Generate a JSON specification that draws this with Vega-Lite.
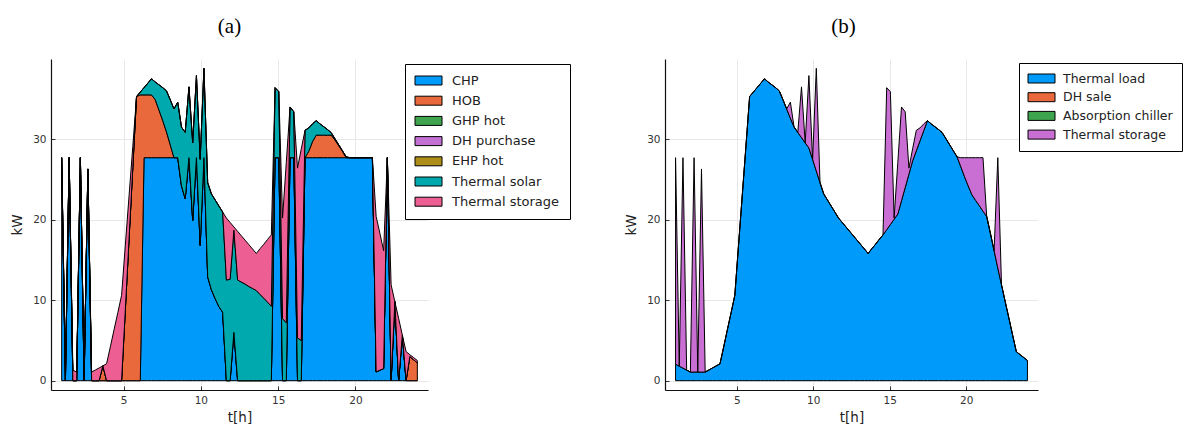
{
"$schema": "https://vega.github.io/schema/vega-lite/v6.json",
"background": "white",
"padding": {"left": 10, "top": 16, "right": 0, "bottom": 0},
"datasets": {
"a": [
{"t":1,"CHP":27.7,"HOB":0,"Thermal solar":0,"Thermal storage":0},
{"t":1.2421,"CHP":0,"HOB":0,"Thermal solar":0,"Thermal storage":1.8},
{"t":1.4842,"CHP":27.7,"HOB":0,"Thermal solar":0,"Thermal storage":0},
{"t":1.7263,"CHP":0,"HOB":0,"Thermal solar":0,"Thermal storage":1.31},
{"t":1.9684,"CHP":0,"HOB":0,"Thermal solar":0,"Thermal storage":1.07},
{"t":2.2105,"CHP":27.7,"HOB":0,"Thermal solar":0,"Thermal storage":0},
{"t":2.4526,"CHP":0,"HOB":0,"Thermal solar":0,"Thermal storage":1.07},
{"t":2.6947,"CHP":26.3,"HOB":0,"Thermal solar":0,"Thermal storage":0},
{"t":2.9368,"CHP":0,"HOB":0,"Thermal solar":0,"Thermal storage":1.07},
{"t":3.1789,"CHP":0,"HOB":0,"Thermal solar":0,"Thermal storage":1.33},
{"t":3.4211,"CHP":0,"HOB":0,"Thermal solar":0,"Thermal storage":1.58},
{"t":3.6632,"CHP":0,"HOB":1.84,"Thermal solar":0,"Thermal storage":0},
{"t":3.9053,"CHP":0,"HOB":0,"Thermal solar":0,"Thermal storage":2.1},
{"t":4.1474,"CHP":0,"HOB":0,"Thermal solar":0,"Thermal storage":4.2},
{"t":4.3895,"CHP":0,"HOB":0,"Thermal solar":0,"Thermal storage":6.35},
{"t":4.6316,"CHP":0,"HOB":0,"Thermal solar":0,"Thermal storage":8.45},
{"t":4.8737,"CHP":0,"HOB":0,"Thermal solar":0,"Thermal storage":10.6},
{"t":5.1158,"CHP":0,"HOB":8.8,"Thermal solar":0,"Thermal storage":8.0},
{"t":5.3579,"CHP":0,"HOB":17.65,"Thermal solar":0,"Thermal storage":5.3},
{"t":5.6,"CHP":0,"HOB":26.5,"Thermal solar":0,"Thermal storage":2.6},
{"t":5.8421,"CHP":0,"HOB":35.3,"Thermal solar":0,"Thermal storage":0},
{"t":6.0842,"CHP":0,"HOB":35.5,"Thermal solar":0.35,"Thermal storage":0},
{"t":6.3263,"CHP":27.7,"HOB":7.8,"Thermal solar":0.9,"Thermal storage":0},
{"t":6.5684,"CHP":27.7,"HOB":7.8,"Thermal solar":1.45,"Thermal storage":0},
{"t":6.8105,"CHP":27.7,"HOB":7.8,"Thermal solar":2.0,"Thermal storage":0},
{"t":7.0526,"CHP":27.7,"HOB":7.2,"Thermal solar":2.2,"Thermal storage":0},
{"t":7.2947,"CHP":27.7,"HOB":5.9,"Thermal solar":3.15,"Thermal storage":0},
{"t":7.5368,"CHP":27.7,"HOB":4.6,"Thermal solar":4.1,"Thermal storage":0},
{"t":7.7789,"CHP":27.7,"HOB":3.2,"Thermal solar":5.1,"Thermal storage":0},
{"t":8.0211,"CHP":27.7,"HOB":1.6,"Thermal solar":5.6,"Thermal storage":0},
{"t":8.2632,"CHP":27.7,"HOB":0,"Thermal solar":6.05,"Thermal storage":0},
{"t":8.5053,"CHP":27.7,"HOB":0,"Thermal solar":6.9,"Thermal storage":0},
{"t":8.7474,"CHP":24.2,"HOB":0,"Thermal solar":7.3,"Thermal storage":0},
{"t":8.9895,"CHP":22.6,"HOB":0,"Thermal solar":8.25,"Thermal storage":0},
{"t":9.2316,"CHP":27.7,"HOB":0,"Thermal solar":8.8,"Thermal storage":0},
{"t":9.4737,"CHP":19.9,"HOB":0,"Thermal solar":9.65,"Thermal storage":0},
{"t":9.7158,"CHP":27.7,"HOB":0,"Thermal solar":10.2,"Thermal storage":0},
{"t":9.9579,"CHP":16.8,"HOB":0,"Thermal solar":10.7,"Thermal storage":0},
{"t":10.2,"CHP":27.7,"HOB":0,"Thermal solar":11.1,"Thermal storage":0},
{"t":10.4421,"CHP":12.9,"HOB":0,"Thermal solar":11.7,"Thermal storage":0},
{"t":10.6842,"CHP":11.3,"HOB":0,"Thermal solar":11.9,"Thermal storage":0},
{"t":10.9263,"CHP":10.2,"HOB":0,"Thermal solar":12.25,"Thermal storage":0},
{"t":11.1684,"CHP":9.2,"HOB":0,"Thermal solar":12.5,"Thermal storage":0},
{"t":11.4105,"CHP":8.5,"HOB":0,"Thermal solar":12.45,"Thermal storage":0},
{"t":11.6526,"CHP":0,"HOB":0,"Thermal solar":12.5,"Thermal storage":7.7},
{"t":11.8947,"CHP":0,"HOB":0,"Thermal solar":12.6,"Thermal storage":7.05},
{"t":12.1368,"CHP":6.0,"HOB":0,"Thermal solar":12.7,"Thermal storage":0.4},
{"t":12.3789,"CHP":0,"HOB":0,"Thermal solar":12.5,"Thermal storage":6.05},
{"t":12.6211,"CHP":0,"HOB":0,"Thermal solar":12.25,"Thermal storage":5.75},
{"t":12.8632,"CHP":0,"HOB":0,"Thermal solar":12.0,"Thermal storage":5.45},
{"t":13.1053,"CHP":0,"HOB":0,"Thermal solar":11.7,"Thermal storage":5.2},
{"t":13.3474,"CHP":0,"HOB":0,"Thermal solar":11.45,"Thermal storage":4.9},
{"t":13.5895,"CHP":0,"HOB":0,"Thermal solar":11.2,"Thermal storage":4.6},
{"t":13.8316,"CHP":0,"HOB":0,"Thermal solar":10.7,"Thermal storage":5.7},
{"t":14.0737,"CHP":0,"HOB":0,"Thermal solar":10.25,"Thermal storage":6.7},
{"t":14.3158,"CHP":0,"HOB":0,"Thermal solar":9.75,"Thermal storage":7.8},
{"t":14.5579,"CHP":0,"HOB":0,"Thermal solar":9.25,"Thermal storage":8.85},
{"t":14.8,"CHP":27.7,"HOB":0,"Thermal solar":8.7,"Thermal storage":0},
{"t":15.0421,"CHP":27.7,"HOB":0,"Thermal solar":8.2,"Thermal storage":0},
{"t":15.2842,"CHP":0,"HOB":0,"Thermal solar":7.7,"Thermal storage":12.5},
{"t":15.5263,"CHP":0,"HOB":0,"Thermal solar":7.2,"Thermal storage":19.9},
{"t":15.7684,"CHP":27.7,"HOB":0,"Thermal solar":6.3,"Thermal storage":0},
{"t":16.0105,"CHP":27.7,"HOB":0,"Thermal solar":5.7,"Thermal storage":0},
{"t":16.2526,"CHP":0,"HOB":0,"Thermal solar":5.3,"Thermal storage":21.1},
{"t":16.4947,"CHP":0,"HOB":0,"Thermal solar":5.0,"Thermal storage":23.8},
{"t":16.7368,"CHP":27.7,"HOB":0,"Thermal solar":3.4,"Thermal storage":0},
{"t":16.9789,"CHP":27.7,"HOB":0.8,"Thermal solar":2.9,"Thermal storage":0},
{"t":17.2211,"CHP":27.7,"HOB":2.0,"Thermal solar":2.2,"Thermal storage":0},
{"t":17.4632,"CHP":27.7,"HOB":2.8,"Thermal solar":1.8,"Thermal storage":0},
{"t":17.7053,"CHP":27.7,"HOB":2.8,"Thermal solar":1.4,"Thermal storage":0},
{"t":17.9474,"CHP":27.7,"HOB":2.8,"Thermal solar":1.05,"Thermal storage":0},
{"t":18.1895,"CHP":27.7,"HOB":2.8,"Thermal solar":0.7,"Thermal storage":0},
{"t":18.4316,"CHP":27.7,"HOB":2.8,"Thermal solar":0.3,"Thermal storage":0},
{"t":18.6737,"CHP":27.7,"HOB":2.2,"Thermal solar":0.15,"Thermal storage":0},
{"t":18.9158,"CHP":27.7,"HOB":1.5,"Thermal solar":0.1,"Thermal storage":0},
{"t":19.1579,"CHP":27.7,"HOB":0.8,"Thermal solar":0.05,"Thermal storage":0},
{"t":19.4,"CHP":27.7,"HOB":0,"Thermal solar":0.1,"Thermal storage":0},
{"t":19.6421,"CHP":27.7,"HOB":0,"Thermal solar":0,"Thermal storage":0},
{"t":19.8842,"CHP":27.7,"HOB":0,"Thermal solar":0,"Thermal storage":0},
{"t":20.1263,"CHP":27.7,"HOB":0,"Thermal solar":0,"Thermal storage":0},
{"t":20.3684,"CHP":27.7,"HOB":0,"Thermal solar":0,"Thermal storage":0},
{"t":20.6105,"CHP":27.7,"HOB":0,"Thermal solar":0,"Thermal storage":0},
{"t":20.8526,"CHP":27.7,"HOB":0,"Thermal solar":0,"Thermal storage":0},
{"t":21.0947,"CHP":27.7,"HOB":0,"Thermal solar":0,"Thermal storage":0},
{"t":21.3368,"CHP":1.1,"HOB":0,"Thermal solar":0,"Thermal storage":19.3},
{"t":21.5789,"CHP":1.3,"HOB":0,"Thermal solar":0,"Thermal storage":17.0},
{"t":21.8211,"CHP":1.5,"HOB":0,"Thermal solar":0,"Thermal storage":14.65},
{"t":22.0632,"CHP":27.7,"HOB":0,"Thermal solar":0,"Thermal storage":0},
{"t":22.3053,"CHP":0,"HOB":0,"Thermal solar":0,"Thermal storage":11.9},
{"t":22.5474,"CHP":9.8,"HOB":0,"Thermal solar":0,"Thermal storage":0},
{"t":22.7895,"CHP":0,"HOB":0,"Thermal solar":0,"Thermal storage":7.75},
{"t":23.0316,"CHP":5.65,"HOB":0,"Thermal solar":0,"Thermal storage":0},
{"t":23.2737,"CHP":0,"HOB":0,"Thermal solar":0,"Thermal storage":3.6},
{"t":23.5158,"CHP":0,"HOB":3.0,"Thermal solar":0,"Thermal storage":0.23},
{"t":23.7579,"CHP":0,"HOB":2.6,"Thermal solar":0,"Thermal storage":0.27},
{"t":24,"CHP":0,"HOB":2.2,"Thermal solar":0,"Thermal storage":0.3}
],
"b": [
{"t":1,"Thermal load":2.05,"Thermal storage":25.65},
{"t":1.2421,"Thermal load":1.8,"Thermal storage":0},
{"t":1.4842,"Thermal load":1.56,"Thermal storage":26.14},
{"t":1.7263,"Thermal load":1.31,"Thermal storage":0},
{"t":1.9684,"Thermal load":1.07,"Thermal storage":0},
{"t":2.2105,"Thermal load":1.07,"Thermal storage":26.63},
{"t":2.4526,"Thermal load":1.07,"Thermal storage":0},
{"t":2.6947,"Thermal load":1.07,"Thermal storage":25.23},
{"t":2.9368,"Thermal load":1.07,"Thermal storage":0},
{"t":3.1789,"Thermal load":1.33,"Thermal storage":0},
{"t":3.4211,"Thermal load":1.58,"Thermal storage":0},
{"t":3.6632,"Thermal load":1.84,"Thermal storage":0},
{"t":3.9053,"Thermal load":2.1,"Thermal storage":0},
{"t":4.1474,"Thermal load":4.2,"Thermal storage":0},
{"t":4.3895,"Thermal load":6.35,"Thermal storage":0},
{"t":4.6316,"Thermal load":8.45,"Thermal storage":0},
{"t":4.8737,"Thermal load":10.6,"Thermal storage":0},
{"t":5.1158,"Thermal load":16.8,"Thermal storage":0},
{"t":5.3579,"Thermal load":22.95,"Thermal storage":0},
{"t":5.6,"Thermal load":29.1,"Thermal storage":0},
{"t":5.8421,"Thermal load":35.3,"Thermal storage":0},
{"t":6.0842,"Thermal load":35.85,"Thermal storage":0},
{"t":6.3263,"Thermal load":36.4,"Thermal storage":0},
{"t":6.5684,"Thermal load":36.95,"Thermal storage":0},
{"t":6.8105,"Thermal load":37.5,"Thermal storage":0},
{"t":7.0526,"Thermal load":37.1,"Thermal storage":0},
{"t":7.2947,"Thermal load":36.75,"Thermal storage":0},
{"t":7.5368,"Thermal load":36.4,"Thermal storage":0},
{"t":7.7789,"Thermal load":36.0,"Thermal storage":0},
{"t":8.0211,"Thermal load":34.9,"Thermal storage":0},
{"t":8.2632,"Thermal load":33.75,"Thermal storage":0},
{"t":8.5053,"Thermal load":32.6,"Thermal storage":2.0},
{"t":8.7474,"Thermal load":31.5,"Thermal storage":0},
{"t":8.9895,"Thermal load":30.85,"Thermal storage":0},
{"t":9.2316,"Thermal load":30.2,"Thermal storage":6.3},
{"t":9.4737,"Thermal load":29.55,"Thermal storage":0},
{"t":9.7158,"Thermal load":28.9,"Thermal storage":9.0},
{"t":9.9579,"Thermal load":27.5,"Thermal storage":0},
{"t":10.2,"Thermal load":26.05,"Thermal storage":12.75},
{"t":10.4421,"Thermal load":24.6,"Thermal storage":0},
{"t":10.6842,"Thermal load":23.2,"Thermal storage":0},
{"t":10.9263,"Thermal load":22.45,"Thermal storage":0},
{"t":11.1684,"Thermal load":21.7,"Thermal storage":0},
{"t":11.4105,"Thermal load":20.95,"Thermal storage":0},
{"t":11.6526,"Thermal load":20.2,"Thermal storage":0},
{"t":11.8947,"Thermal load":19.65,"Thermal storage":0},
{"t":12.1368,"Thermal load":19.1,"Thermal storage":0},
{"t":12.3789,"Thermal load":18.55,"Thermal storage":0},
{"t":12.6211,"Thermal load":18.0,"Thermal storage":0},
{"t":12.8632,"Thermal load":17.45,"Thermal storage":0},
{"t":13.1053,"Thermal load":16.9,"Thermal storage":0},
{"t":13.3474,"Thermal load":16.35,"Thermal storage":0},
{"t":13.5895,"Thermal load":15.8,"Thermal storage":0},
{"t":13.8316,"Thermal load":16.4,"Thermal storage":0},
{"t":14.0737,"Thermal load":16.95,"Thermal storage":0},
{"t":14.3158,"Thermal load":17.55,"Thermal storage":0},
{"t":14.5579,"Thermal load":18.1,"Thermal storage":0},
{"t":14.8,"Thermal load":18.75,"Thermal storage":17.65},
{"t":15.0421,"Thermal load":19.4,"Thermal storage":16.5},
{"t":15.2842,"Thermal load":20.05,"Thermal storage":0.15},
{"t":15.5263,"Thermal load":20.7,"Thermal storage":6.4},
{"t":15.7684,"Thermal load":22.35,"Thermal storage":11.65},
{"t":16.0105,"Thermal load":24.0,"Thermal storage":9.4},
{"t":16.2526,"Thermal load":25.65,"Thermal storage":0.75},
{"t":16.4947,"Thermal load":27.3,"Thermal storage":1.5},
{"t":16.7368,"Thermal load":28.55,"Thermal storage":2.55},
{"t":16.9789,"Thermal load":29.8,"Thermal storage":1.6},
{"t":17.2211,"Thermal load":31.05,"Thermal storage":0.85},
{"t":17.4632,"Thermal load":32.3,"Thermal storage":0},
{"t":17.7053,"Thermal load":31.9,"Thermal storage":0},
{"t":17.9474,"Thermal load":31.55,"Thermal storage":0},
{"t":18.1895,"Thermal load":31.2,"Thermal storage":0},
{"t":18.4316,"Thermal load":30.8,"Thermal storage":0},
{"t":18.6737,"Thermal load":30.05,"Thermal storage":0},
{"t":18.9158,"Thermal load":29.3,"Thermal storage":0},
{"t":19.1579,"Thermal load":28.55,"Thermal storage":0},
{"t":19.4,"Thermal load":27.8,"Thermal storage":0},
{"t":19.6421,"Thermal load":26.6,"Thermal storage":1.1},
{"t":19.8842,"Thermal load":25.35,"Thermal storage":2.35},
{"t":20.1263,"Thermal load":24.2,"Thermal storage":3.5},
{"t":20.3684,"Thermal load":23.1,"Thermal storage":4.6},
{"t":20.6105,"Thermal load":22.4,"Thermal storage":5.3},
{"t":20.8526,"Thermal load":21.75,"Thermal storage":5.95},
{"t":21.0947,"Thermal load":21.05,"Thermal storage":6.65},
{"t":21.3368,"Thermal load":20.4,"Thermal storage":0},
{"t":21.5789,"Thermal load":18.3,"Thermal storage":0},
{"t":21.8211,"Thermal load":16.15,"Thermal storage":0},
{"t":22.0632,"Thermal load":14.0,"Thermal storage":13.7},
{"t":22.3053,"Thermal load":11.9,"Thermal storage":0},
{"t":22.5474,"Thermal load":9.8,"Thermal storage":0},
{"t":22.7895,"Thermal load":7.75,"Thermal storage":0},
{"t":23.0316,"Thermal load":5.65,"Thermal storage":0},
{"t":23.2737,"Thermal load":3.6,"Thermal storage":0},
{"t":23.5158,"Thermal load":3.23,"Thermal storage":0},
{"t":23.7579,"Thermal load":2.87,"Thermal storage":0},
{"t":24,"Thermal load":2.5,"Thermal storage":0}
]
},
"hconcat": [
{
"width": 377,
"height": 331,
"title": {"text": "(a)", "font": "Liberation Serif", "fontSize": 21, "fontWeight": "normal", "color": "black", "anchor": "middle", "frame": "group", "dx": -10, "offset": 22},
"data": {"name": "a"},
"transform": [{"fold": ["CHP", "HOB", "Thermal solar", "Thermal storage"], "as": ["series", "kW"]}],
"mark": {"type": "area", "stroke": "black", "strokeWidth": 1, "strokeJoin": "round"},
"encoding": {
"x": {"field": "t", "type": "quantitative", "scale": {"domain": [0.31, 24.69], "nice": false, "zero": false}, "axis": {"values": [5, 10, 15, 20], "title": "t[h]"}},
"y": {"field": "kW", "type": "quantitative", "stack": "zero", "scale": {"domain": [-1.16, 39.96], "nice": false, "zero": false}, "axis": {"values": [0, 10, 20, 30], "title": "kW"}},
"color": {"field": "series", "type": "nominal",
"scale": {"domain": ["CHP", "HOB", "GHP hot", "DH purchase", "EHP hot", "Thermal solar", "Thermal storage"], "range": ["#009AFA", "#E9683C", "#3EA44E", "#C271D2", "#AC8E18", "#00A9AD", "#ED5E93"]},
"legend": {"title": null, "orient": "none", "legendX": 354, "legendY": 5, "direction": "vertical", "strokeColor": "black", "fillColor": "white", "padding": 10, "symbolType": "M-1.083,-0.75H3.417V0.75H-1.083Z", "symbolSize": 144, "symbolStrokeColor": "black", "symbolStrokeWidth": 1, "symbolOpacity": 1, "labelFont": "DejaVu Sans", "labelFontSize": 13, "labelColor": "#222", "labelOffset": 24, "rowPadding": 6.2, "labelLimit": 300}},
"order": {"field": "series", "type": "nominal", "sort": "ascending"}
}
},
{
"width": 373,
"height": 331,
"title": {"text": "(b)", "font": "Liberation Serif", "fontSize": 21, "fontWeight": "normal", "color": "black", "anchor": "middle", "frame": "group", "dx": -8, "offset": 22},
"data": {"name": "b"},
"transform": [{"fold": ["Thermal load", "Thermal storage"], "as": ["series", "kW"]}],
"mark": {"type": "area", "stroke": "black", "strokeWidth": 1, "strokeJoin": "round"},
"encoding": {
"x": {"field": "t", "type": "quantitative", "scale": {"domain": [0.31, 24.69], "nice": false, "zero": false}, "axis": {"values": [5, 10, 15, 20], "title": "t[h]"}},
"y": {"field": "kW", "type": "quantitative", "stack": "zero", "scale": {"domain": [-1.16, 39.96], "nice": false, "zero": false}, "axis": {"values": [0, 10, 20, 30], "title": "kW"}},
"color": {"field": "series", "type": "nominal",
"scale": {"domain": ["Thermal load", "DH sale", "Absorption chiller", "Thermal storage"], "range": ["#009AFA", "#E9683C", "#3EA44E", "#C96ED3"]},
"legend": {"title": null, "orient": "none", "legendX": 354, "legendY": 4, "direction": "vertical", "strokeColor": "black", "fillColor": "white", "padding": 9, "symbolType": "M-1.083,-0.75H3.417V0.75H-1.083Z", "symbolSize": 144, "symbolStrokeColor": "black", "symbolStrokeWidth": 1, "symbolOpacity": 1, "labelFont": "DejaVu Sans", "labelFontSize": 12.5, "labelColor": "#222", "labelOffset": 22, "rowPadding": 5.7, "labelLimit": 300}},
"order": {"field": "series", "type": "nominal", "sort": "ascending"}
}
}
],
"spacing": 53,
"resolve": {"scale": {"color": "independent"}},
"config": {
"view": {"stroke": null},
"axis": {"domainColor": "#111", "domainWidth": 1.2, "tickColor": "#333", "tickSize": -4, "labelPadding": 9, "labelFont": "DejaVu Sans", "labelFontSize": 10.5, "labelColor": "#333", "titleFont": "DejaVu Sans", "titleFontSize": 13.5, "titleFontWeight": "normal", "titleColor": "#222", "grid": true, "gridColor": "#e8e8e8", "gridWidth": 1},
"axisX": {"titlePadding": 5},
"axisY": {"titlePadding": 8}
}
}
